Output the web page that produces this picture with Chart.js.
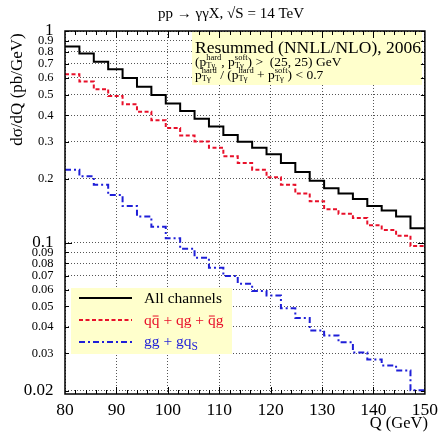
<!DOCTYPE html>
<html>
<head>
<meta charset="utf-8">
<script src="https://cdn.jsdelivr.net/npm/chart.js@4"></script>
<style>
  html, body { margin: 0; padding: 0; background: #fff; }
  canvas { display: block; }
</style>
</head>
<body>
<canvas id="myChart" width="444" height="438"></canvas>
<script>
// Diphoton invariant mass spectrum, pp -> gamma gamma X at 14 TeV
// histogram bins of 2.8 GeV between 80 and 150 GeV

const qEdges = [80, 82.8, 85.6, 88.4, 91.2, 94, 96.8, 99.6, 102.4, 105.2, 108, 110.8, 113.6,
    116.4, 119.2, 122, 124.8, 127.6, 130.4, 133.2, 136, 138.8, 141.6, 144.4, 147.2, 150];

const allChannels = [0.846, 0.784, 0.715, 0.660, 0.600, 0.546, 0.498, 0.455, 0.419, 0.385,
    0.354, 0.323, 0.300, 0.281, 0.262, 0.238, 0.216, 0.196, 0.181, 0.171,
    0.161, 0.149, 0.142, 0.133, 0.117];

const qqbarQg = [0.625, 0.577, 0.531, 0.493, 0.451, 0.416, 0.379, 0.348, 0.321, 0.301,
    0.281, 0.256, 0.238, 0.221, 0.204, 0.188, 0.171, 0.157, 0.144, 0.137,
    0.131, 0.121, 0.115, 0.108, 0.0964];

const ggGqs = [0.221, 0.206, 0.188, 0.168, 0.149, 0.133, 0.119, 0.105, 0.0937, 0.0849,
    0.0761, 0.0697, 0.0640, 0.0592, 0.0564, 0.0491, 0.0441, 0.0385, 0.0365, 0.0339,
    0.0303, 0.0281, 0.0263, 0.0249, 0.0201];

const qTicks = [80, 90, 100, 110, 120, 130, 140, 150];
const yTickValues = [1, 0.9, 0.8, 0.7, 0.6, 0.5, 0.4, 0.3, 0.2, 0.1,
    0.09, 0.08, 0.07, 0.06, 0.05, 0.04, 0.03, 0.02];
const yTickLabels = ['1', '0.9', '0.8', '0.7', '0.6', '0.5', '0.4', '0.3', '0.2', '0.1',
    '0.09', '0.08', '0.07', '0.06', '0.05', '0.04', '0.03', '0.02'];
const yBigLabels = [1, 0.1, 0.02];

const RED = '#e8102a';
const BLUE = '#1f1fd8';
const serif = "'Liberation Serif', 'Times New Roman', serif";

function font(size) {
    return size + 'px ' + serif;
}

// turn bin contents into step points (left edge of every bin + closing edge)
function toSteps(values) {
    const pts = values.map((v, i) => ({ x: qEdges[i], y: v }));
    pts.push({ x: qEdges[qEdges.length - 1], y: values[values.length - 1] });
    return pts;
}

// draws a run of text with sub/superscripts and overbars, returns end x
function drawRich(c, x, y, parts, base, small, subDy, supDy) {
    parts.forEach(p => {
        if (p.t !== undefined) {
            c.font = font(base);
            c.fillText(p.t, x, y);
            const w = c.measureText(p.t).width;
            if (p.bar) {
                c.fillRect(x + w * 0.12, y - base * 0.45 - 2.5, w * 0.76, 1);
            }
            x += w;
        } else {
            c.font = font(small);
            let w = 0;
            if (p.sub) {
                c.fillText(p.sub, x, y + subDy);
                w = Math.max(w, c.measureText(p.sub).width);
            }
            if (p.sup) {
                c.fillText(p.sup, x, y - supDy);
                w = Math.max(w, c.measureText(p.sup).width);
            }
            x += w;
        }
    });
    return x;
}

const decorations = {
    id: 'decorations',
    beforeDatasetsDraw(chart) {
        const c = chart.ctx;
        c.save();
        // annotation box
        c.fillStyle = '#ffffcc';
        c.fillRect(192, 32, 230, 53);
        // legend box
        c.fillRect(71, 288, 161, 66);

        c.fillStyle = '#000';
        c.textBaseline = 'alphabetic';
        c.textAlign = 'left';
        c.font = font(17.5);
        c.fillText('Resummed (NNLL/NLO), 2006', 195, 52.5);
        drawRich(c, 195, 65.5, [
            { t: '(p' }, { sub: 'Tγ', sup: 'hard' }, { t: ', p' }, { sub: 'Tγ', sup: 'soft' },
            { t: ') >  (25, 25) GeV' }
        ], 13.5, 8.5, 2.5, 5.5);
        drawRich(c, 195, 78.5, [
            { t: 'p' }, { sub: 'Tγ', sup: 'hard' }, { t: ' / (p' }, { sub: 'Tγ', sup: 'hard' },
            { t: ' + p' }, { sub: 'Tγ', sup: 'soft' }, { t: ') < 0.7' }
        ], 13.5, 8.5, 2.5, 5.5);

        // legend entries
        const sx0 = 79, sx1 = 132, tx = 144;
        c.lineWidth = 2;
        c.strokeStyle = '#000';
        c.setLineDash([]);
        c.beginPath(); c.moveTo(sx0, 298); c.lineTo(sx1, 298); c.stroke();
        c.strokeStyle = RED;
        c.setLineDash([4, 2.5]);
        c.beginPath(); c.moveTo(sx0, 320); c.lineTo(sx1, 320); c.stroke();
        c.strokeStyle = BLUE;
        c.setLineDash([6, 3, 2, 3]);
        c.beginPath(); c.moveTo(sx0, 342); c.lineTo(sx1, 342); c.stroke();
        c.setLineDash([]);

        c.fillStyle = '#000';
        c.font = font(15.5);
        c.fillText('All channels', tx, 303);
        c.fillStyle = RED;
        drawRich(c, tx, 325, [
            { t: 'q' }, { t: 'q', bar: true }, { t: ' + qg + ' }, { t: 'q', bar: true }, { t: 'g' }
        ], 15.5, 11, 4, 6);
        c.fillStyle = BLUE;
        drawRich(c, tx, 346, [{ t: 'gg + gq' }, { sub: 'S' }], 15.5, 11.5, 4, 6);
        c.restore();
    },
    afterDraw(chart) {
        const c = chart.ctx;
        const a = chart.chartArea;
        const xs = chart.scales.x, ys = chart.scales.y;
        c.save();
        c.strokeStyle = '#000';
        c.lineWidth = 1.5;
        c.strokeRect(a.left, a.top, a.right - a.left, a.bottom - a.top);

        // inward tick marks
        c.lineWidth = 1;
        c.beginPath();
        for (let q = 82; q < 150; q += 2) {
            const px = Math.round(xs.getPixelForValue(q)) + 0.5;
            const len = q % 10 === 0 ? 7 : 4;
            c.moveTo(px, a.bottom); c.lineTo(px, a.bottom - len);
            c.moveTo(px, a.top); c.lineTo(px, a.top + len);
        }
        yTickValues.forEach(v => {
            const py = Math.round(ys.getPixelForValue(v)) + 0.5;
            const len = v === 0.1 ? 7 : 4;
            c.moveTo(a.left, py); c.lineTo(a.left + len, py);
            c.moveTo(a.right, py); c.lineTo(a.right - len, py);
        });
        c.stroke();

        // title and axis titles
        c.fillStyle = '#000';
        c.textAlign = 'center';
        c.textBaseline = 'alphabetic';
        c.font = font(15);
        c.fillText('pp → γγX, √S = 14 TeV', 231, 18);

        c.textAlign = 'right';
        c.font = font(16.5);
        c.fillText('Q (GeV)', 428, 428);

        c.translate(22, 89.5);
        c.rotate(-Math.PI / 2);
        c.textAlign = 'center';
        c.font = font(17);
        c.fillText('dσ/dQ (pb/GeV)', 0, 0);
        c.restore();
    }
};

const ctx = document.getElementById('myChart').getContext('2d');

const histLine = (label, values, color, dash) => ({
    label: label,
    data: toSteps(values),
    stepped: 'before',
    borderColor: color,
    borderWidth: 2,
    borderDash: dash,
    pointRadius: 0,
    fill: false
});

new Chart(ctx, {
    type: 'line',
    data: {
        datasets: [
            histLine('All channels', allChannels, '#000', []),
            histLine('qq̄ + qg + q̄g', qqbarQg, RED, [4, 2.5]),
            histLine('gg + gqS', ggGqs, BLUE, [6, 3, 2, 3])
        ]
    },
    options: {
        responsive: false,
        animation: false,
        layout: {
            padding: { top: 31, right: 14, bottom: 0, left: 0 }
        },
        plugins: {
            legend: { display: false },
            title: { display: false },
            tooltip: { enabled: false }
        },
        scales: {
            x: {
                type: 'linear',
                min: 80,
                max: 150,
                afterFit: s => { s.height = 44; },
                afterBuildTicks: s => { s.ticks = qTicks.map(v => ({ value: v })); },
                grid: { color: '#555', lineWidth: 1, drawTicks: false },
                border: { display: false, dash: [1, 2] },
                ticks: {
                    color: '#000',
                    padding: 6,
                    maxRotation: 0,
                    font: { family: serif, size: 17.5 },
                    callback: v => String(v)
                }
            },
            y: {
                type: 'logarithmic',
                min: 0.0193,
                max: 1,
                afterFit: s => { s.width = 65; },
                afterBuildTicks: s => { s.ticks = yTickValues.map(v => ({ value: v })); },
                grid: { color: '#555', lineWidth: 1, drawTicks: false },
                border: { display: false, dash: [1, 2] },
                ticks: {
                    color: '#000',
                    padding: 11.5,
                    autoSkip: false,
                    font: (context) => {
                        const v = context.tick ? context.tick.value : 0;
                        return { family: serif, size: yBigLabels.includes(v) ? 17 : 12.5 };
                    },
                    callback: (value) => {
                        const i = yTickValues.indexOf(value);
                        return i >= 0 ? yTickLabels[i] : '';
                    }
                }
            }
        }
    },
    plugins: [decorations]
});
</script>
</body>
</html>
